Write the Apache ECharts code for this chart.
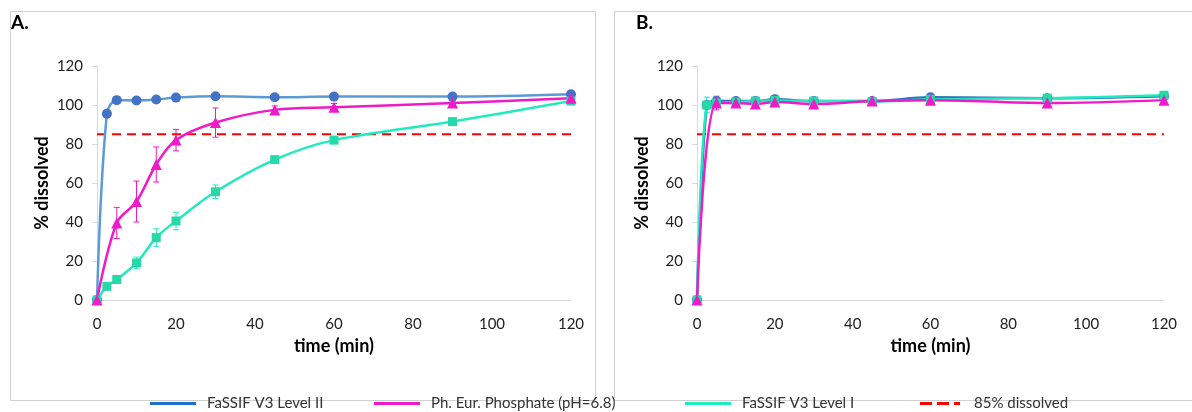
<!DOCTYPE html>
<html><head><meta charset="utf-8">
<script src="https://cdn.jsdelivr.net/npm/echarts@6/dist/echarts.min.js"></script>
<style>html,body{margin:0;padding:0;background:#fff}#c{width:1192px;height:412px}</style>
</head><body><div id="c"></div>
<script>
// ---- data ----
var seriesNames = ['FaSSIF V3 Level II', 'Ph. Eur. Phosphate (pH=6.8)', 'FaSSIF V3 Level I', '85% dissolved'];
var xTicks = [0, 20, 40, 60, 80, 100, 120];
var yTicks = [0, 20, 40, 60, 80, 100, 120];
var limitValue = 85;

var timeL2 = [0, 2.5, 5, 10, 15, 20, 30, 45, 60, 90, 120];
var timePhos = [0, 5, 10, 15, 20, 30, 45, 60, 90, 120];
var timeL1 = [0, 2.5, 5, 10, 15, 20, 30, 45, 60, 90, 120];

// Panel A
var aL2 = [0, 95.5, 102.5, 102.3, 102.8, 103.8, 104.5, 104, 104.3, 104.3, 105.5];
var aL2Err = [0, 0.5, 0.5, 0.5, 0.5, 0.5, 0.5, 0.5, 0.5, 0.5, 0.5];
var aPhos = [0, 39.5, 50.5, 69.5, 82, 91, 97.5, 98.8, 101, 103.5];
var aPhosErr = [0, 8, 10.5, 9, 5.5, 7.5, 2, 2, 1, 1];
var aL1 = [0, 7, 10.5, 19, 32, 40.5, 55.5, 72, 82, 91.5, 102];
var aL1Err = [0, 1, 1, 3, 4.5, 4.5, 3.5, 1.5, 1, 1, 1];

// Panel B
var bL2 = [0, 100, 102, 102, 102, 103, 102, 102, 104, 103.5, 104.5];
var bL2Err = [0, 1, 0.5, 0.5, 0.5, 0.5, 0.5, 0.5, 0.5, 0.5, 0.5];
var bPhos = [0, 101, 101, 100.5, 101.5, 100.5, 102, 102.5, 101, 102.5];
var bPhosErr = [0, 3.5, 1, 1, 1, 1, 1, 1, 1, 1];
var bL1 = [0, 100, 101, 101.5, 102, 102.3, 102, 101.8, 102.8, 103.5, 105];
var bL1Err = [0, 4, 1, 1, 1, 1, 1, 1, 1, 1, 1];

// ---- styles ----
var cL2Line = '#5B9BD5', cL2Mark = '#4472C4', cL2Legend = '#1F70C8';
var cPhos = '#F01AC8';
var cL1Line = '#22EAC0', cL1Mark = '#25D9A8';
var cRed = '#FF0000';
var font = 'Lato, "Open Sans", sans-serif';

function pairs(t, v) { return t.map(function (x, i) { return [x, v[i]]; }); }
function errData(t, v, e) { return t.map(function (x, i) { return [x, v[i] - e[i], v[i] + e[i]]; }); }

function errSeries(gi, t, v, e, color) {
  return {
    type: 'custom', xAxisIndex: gi, yAxisIndex: gi, silent: true, z: 1,
    data: errData(t, v, e),
    renderItem: function (params, api) {
      var lo = api.coord([api.value(0), api.value(1)]);
      var hi = api.coord([api.value(0), api.value(2)]);
      var w = 3;
      var st = { stroke: color, lineWidth: 1 };
      return { type: 'group', children: [
        { type: 'line', shape: { x1: hi[0], y1: hi[1], x2: lo[0], y2: lo[1] }, style: st },
        { type: 'line', shape: { x1: hi[0] - w, y1: hi[1], x2: hi[0] + w, y2: hi[1] }, style: st },
        { type: 'line', shape: { x1: lo[0] - w, y1: lo[1], x2: lo[0] + w, y2: lo[1] }, style: st }
      ]};
    }
  };
}

function lineSeries(gi, name, t, v, lineColor, markColor, symbol, size) {
  return {
    type: 'line', name: name, xAxisIndex: gi, yAxisIndex: gi,
    data: pairs(t, v), smooth: 0.35, symbol: symbol, symbolSize: size, z: 3,
    lineStyle: { color: lineColor, width: 2.5 },
    itemStyle: { color: markColor },
    emphasis: { disabled: true }
  };
}

function limitSeries(gi) {
  return {
    type: 'line', name: seriesNames[3], xAxisIndex: gi, yAxisIndex: gi,
    data: [[xTicks[0], limitValue], [xTicks[xTicks.length - 1], limitValue]],
    symbol: 'none', z: 2,
    lineStyle: { color: cRed, width: 2, type: [9, 6] },
    itemStyle: { color: cRed }
  };
}

function xAxis(gi) {
  return {
    type: 'value', gridIndex: gi, min: 0, max: 120, interval: 20,
    name: 'time (min)', nameLocation: 'middle', nameGap: 37,
    nameTextStyle: { fontFamily: font, fontWeight: 'bold', fontSize: 18, color: '#000' },
    axisLine: { show: true, onZero: false, lineStyle: { color: '#D9D9D9', width: 1 } },
    axisTick: { show: false },
    axisLabel: { fontFamily: font, fontSize: 15, color: '#222', margin: 17 },
    splitLine: { show: false }
  };
}
function yAxis(gi) {
  return {
    type: 'value', gridIndex: gi, min: 0, max: 120, interval: 20,
    name: '% dissolved', nameLocation: 'middle', nameGap: 46, nameRotate: 90,
    nameTextStyle: { fontFamily: font, fontWeight: 'bold', fontSize: 18, color: '#000' },
    axisLine: { show: true, lineStyle: { color: '#D9D9D9', width: 1 } },
    axisTick: { show: true, length: 5, lineStyle: { color: '#D9D9D9' } },
    axisLabel: { fontFamily: font, fontSize: 15, color: '#222', margin: 14 },
    splitLine: { show: false }
  };
}

var legendLefts = [145, 369, 680, 915];
var legendColors = [cL2Legend, cPhos, cL1Line, cRed];
var legends = seriesNames.map(function (n, i) {
  var item = { name: n, itemStyle: { color: legendColors[i] } };
  if (i === 3) {
    item.icon = 'path://M0,0h12v3h-12z M17,0h12v3h-12z M34,0h6v3h-6z';
  } else {
    item.icon = 'rect';
  }
  return {
    left: legendLefts[i], top: 391, itemWidth: 46, itemHeight: 3, itemGap: 0, selectedMode: false,
    data: [item],
    textStyle: { fontFamily: font, fontSize: 15, color: '#333', padding: [0, 0, 0, 6] }
  };
});

var chart = echarts.init(document.getElementById('c'), null, { renderer: 'canvas' });
chart.setOption({
  backgroundColor: '#fff',
  animation: false,
  graphic: [
    { type: 'rect', shape: { x: 10.5, y: 11.5, width: 585, height: 389 }, style: { fill: 'none', stroke: '#D0D0D0', lineWidth: 1 }, z: -10 },
    { type: 'rect', shape: { x: 614.5, y: 11.5, width: 600, height: 389 }, style: { fill: 'none', stroke: '#D0D0D0', lineWidth: 1 }, z: -10 },
    { type: 'text', left: 11, top: 13, style: { text: 'A.', fontFamily: font, fontWeight: 'bold', fontSize: 19, fill: '#000' } },
    { type: 'text', left: 636, top: 13, style: { text: 'B.', fontFamily: font, fontWeight: 'bold', fontSize: 19, fill: '#000' } }
  ],
  legend: legends,
  grid: [
    { left: 97, top: 66, width: 474, height: 234 },
    { left: 697, top: 66, width: 467, height: 234 }
  ],
  xAxis: [xAxis(0), xAxis(1)],
  yAxis: [yAxis(0), yAxis(1)],
  series: [
    limitSeries(0),
    errSeries(0, timeL2, aL2, aL2Err, cL2Mark),
    errSeries(0, timePhos, aPhos, aPhosErr, cPhos),
    errSeries(0, timeL1, aL1, aL1Err, cL1Line),
    lineSeries(0, seriesNames[0], timeL2, aL2, cL2Line, cL2Mark, 'circle', 10),
    lineSeries(0, seriesNames[2], timeL1, aL1, cL1Line, cL1Mark, 'rect', 9),
    lineSeries(0, seriesNames[1], timePhos, aPhos, cPhos, cPhos, 'triangle', 11),

    limitSeries(1),
    errSeries(1, timeL2, bL2, bL2Err, '#2E75B6'),
    errSeries(1, timePhos, bPhos, bPhosErr, cPhos),
    errSeries(1, timeL1, bL1, bL1Err, cL1Line),
    lineSeries(1, seriesNames[0], timeL2, bL2, '#2E6FC0', cL2Mark, 'circle', 10),
    lineSeries(1, seriesNames[2], timeL1, bL1, cL1Line, cL1Mark, 'rect', 9),
    lineSeries(1, seriesNames[1], timePhos, bPhos, cPhos, cPhos, 'triangle', 11)
  ]
});
</script></body></html>
